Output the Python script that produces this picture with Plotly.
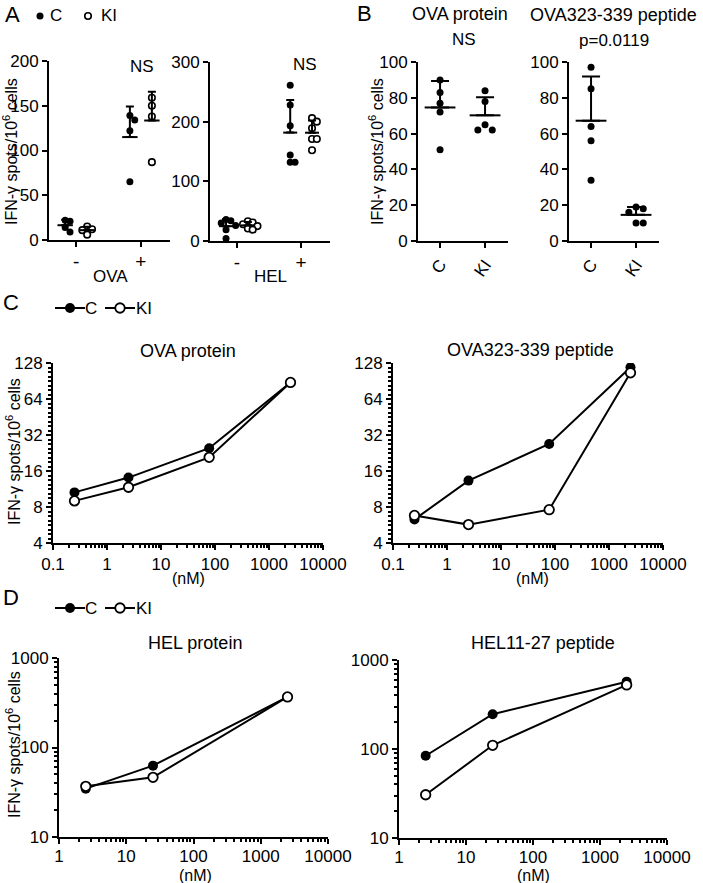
import numpy as np
import plotly.graph_objects as go

W, H = 703, 883
FONT = "Liberation Sans, Arial, sans-serif"

# ---------------- data ----------------
# Panel A (IFN-g spots / 1e6 cells), groups "-" and "+"
a_groups = ["-", "+"]
a_ova_neg_c = [22, 21, 14, 9]
a_ova_neg_ki = [15, 12, 11, 6]
a_ova_pos_c = [139, 134, 122, 65]
a_ova_pos_ki = [159, 150, 138, 87]
a_hel_neg_c = [36, 34, 30, 26, 19, 4]
a_hel_neg_ki = [33, 31, 28, 25, 21, 19]
a_hel_pos_c = [261, 228, 193, 144, 132, 132]
a_hel_pos_ki = [206, 200, 189, 171, 171, 152]

# Panel B
b_groups = ["C", "KI"]
b_ova_c = [90, 83, 77, 72, 51]
b_ova_ki = [84, 78, 65, 62, 62]
b_pep_c = [97, 85, 64, 56, 34]
b_pep_ki = [19, 18, 16, 10, 10]

# Panel C (dose in nM)
c_dose = [0.25, 2.5, 78, 2500]
c_ova_c = [10.6, 14.1, 24.8, 88]
c_ova_ki = [9.0, 11.7, 20.8, 88]
c_pep_c = [6.3, 13.3, 26.9, 118]
c_pep_ki = [6.8, 5.7, 7.6, 106]

# Panel D (dose in nM)
d_dose = [2.5, 25, 2500]
d_hel_c = [34.7, 62.7, 367]
d_hel_ki = [36.8, 46.4, 367]
d_pep_c = [84, 246, 571]
d_pep_ki = [30.6, 110, 525]

# ---------------- layout helpers ----------------
def xd(a, b):
    return [a / W, b / W]

def yd(top, bottom):
    return [1 - bottom / H, 1 - top / H]

boxes = {
    1: ((49, 170), (61, 240)),
    2: ((210, 330), (62, 241)),
    3: ((418, 508), (62, 241)),
    4: ((569, 659), (62, 241)),
    5: ((53, 323), (363, 543)),
    6: ((393, 663), (363, 543)),
    7: ((59, 328), (658, 837)),
    8: ((399, 667), (660, 838)),
}

TICKFONT = dict(size=17, color="black", family=FONT)
base_axis = dict(showline=True, linecolor="black", linewidth=2, ticks="outside",
                 ticklen=5, tickwidth=2, tickcolor="black", showgrid=False,
                 zeroline=False, tickfont=TICKFONT)

fig = go.Figure()

FILLED = dict(symbol="circle", color="black", size=7, line=dict(width=0))
OPEN = dict(symbol="circle", color="white", size=6.5, line=dict(color="black", width=1.6))


def swarm(vals, center, thr, step):
    placed, xs = [], []
    for v in vals:
        x = center
        for k in [0, 1, -1, 2, -2, 3, -3]:
            x = center + k * step
            if all(abs(v - pv) >= thr or abs(x - px) >= step * 0.99 for pv, px in placed):
                break
        placed.append((v, x))
        xs.append(x)
    return xs


def add_group(vals, center, ax, marker, thr, step, meanlen, capw, legend=None):
    xs = swarm(vals, center, thr, step)
    xa = "x" if ax == 1 else f"x{ax}"
    ya = "y" if ax == 1 else f"y{ax}"
    fig.add_trace(go.Scatter(x=xs, y=vals, mode="markers", marker=marker,
                             xaxis=xa, yaxis=ya, name=" ",
                             showlegend=legend is not None,
                             legend=legend or "legend", hoverinfo="skip"))
    m = float(np.mean(vals))
    sd = float(np.std(vals, ddof=1))
    fig.add_trace(go.Scatter(x=[center], y=[m], mode="markers",
                             marker=dict(symbol="line-ew", size=meanlen,
                                         line=dict(width=2, color="black")),
                             error_y=dict(type="data", symmetric=False, array=[sd],
                                          arrayminus=[0], width=capw, thickness=2,
                                          color="black"),
                             xaxis=xa, yaxis=ya, showlegend=False, hoverinfo="skip"))


def thr_for(ax, span, px=6.0):
    (t, b) = boxes[ax][1]
    return px * span / (b - t)


# Panel A
offs = 0.17
stepA = 0.075
add_group(a_ova_neg_c, 0 - offs, 1, FILLED, thr_for(1, 200), stepA, 11, 4, legend="legend")
add_group(a_ova_neg_ki, 0 + offs, 1, OPEN, thr_for(1, 200), stepA, 11, 4, legend="legend4")
add_group(a_ova_pos_c, 1 - offs, 1, FILLED, thr_for(1, 200), stepA, 11, 4)
add_group(a_ova_pos_ki, 1 + offs, 1, OPEN, thr_for(1, 200), stepA, 11, 4)
add_group(a_hel_neg_c, 0 - offs, 2, FILLED, thr_for(2, 300), stepA, 10, 4)
add_group(a_hel_neg_ki, 0 + offs, 2, OPEN, thr_for(2, 300), stepA, 10, 4)
add_group(a_hel_pos_c, 1 - offs, 2, FILLED, thr_for(2, 300), stepA, 10, 4)
add_group(a_hel_pos_ki, 1 + offs, 2, OPEN, thr_for(2, 300), stepA, 10, 4)

# Panel B
stepB = 0.16
add_group(b_ova_c, 0, 3, FILLED, thr_for(3, 100), stepB, 22, 9)
add_group(b_ova_ki, 1, 3, FILLED, thr_for(3, 100), stepB, 22, 9)
add_group(b_pep_c, 0, 4, FILLED, thr_for(4, 100), stepB, 22, 9)
add_group(b_pep_ki, 1, 4, FILLED, thr_for(4, 100), stepB, 22, 9)

# Panels C and D (lines)
LF = dict(symbol="circle", color="black", size=10, line=dict(width=0))
LO = dict(symbol="circle", color="white", size=9.5, line=dict(color="black", width=1.8))


def add_line(x, y, ax, marker, legend=None):
    fig.add_trace(go.Scatter(x=x, y=y, mode="lines+markers", marker=marker,
                             line=dict(color="black", width=2),
                             xaxis=f"x{ax}", yaxis=f"y{ax}", name=" ",
                             showlegend=legend is not None, legend=legend or "legend",
                             hoverinfo="skip"))


add_line(c_dose, c_ova_c, 5, LF, "legend2")
add_line(c_dose, c_ova_ki, 5, LO, "legend5")
add_line(c_dose, c_pep_c, 6, LF)
add_line(c_dose, c_pep_ki, 6, LO)
add_line(d_dose, d_hel_c, 7, LF, "legend3")
add_line(d_dose, d_hel_ki, 7, LO, "legend6")
add_line(d_dose, d_pep_c, 8, LF)
add_line(d_dose, d_pep_ki, 8, LO)

# ---------------- axes ----------------
layout = {}
for ax, ((x0, x1), (t, b)) in boxes.items():
    sx = "" if ax == 1 else str(ax)
    layout[f"xaxis{sx}"] = dict(base_axis, domain=xd(x0, x1), anchor=f"y{sx}")
    layout[f"yaxis{sx}"] = dict(base_axis, domain=yd(t, b), anchor=f"x{sx}")

for ax in (1, 2):
    sx = "" if ax == 1 else str(ax)
    layout[f"xaxis{sx}"].update(range=[-0.42, 1.45], tickvals=[0, 1], ticktext=a_groups,
                                tickfont=dict(size=19, color="black", family=FONT),
                                ticklabelstandoff=-2)
layout["yaxis"].update(range=[0, 200], tickvals=[0, 50, 100, 150, 200])
layout["yaxis2"].update(range=[0, 300], tickvals=[0, 100, 200, 300])
for ax in (3, 4):
    layout[f"xaxis{ax}"].update(range=[-0.49, 1.51], tickvals=[0, 1], ticktext=b_groups,
                                tickangle=-55)
    layout[f"yaxis{ax}"].update(range=[0, 100], tickvals=[0, 20, 40, 60, 80, 100])


def log_minor(lo, hi):
    vals = []
    for e in range(lo, hi):
        for k in range(2, 10):
            vals.append(k * 10 ** e)
    return vals


MINOR = dict(ticks="outside", ticklen=3, tickwidth=1.5, tickcolor="black")
for ax in (5, 6):
    layout[f"xaxis{ax}"].update(type="log", range=[-1, 4],
                                tickvals=[0.1, 1, 10, 100, 1000, 10000],
                                ticktext=["0.1", "1", "10", "100", "1000", "10000"],
                                minor=dict(MINOR, tickvals=log_minor(-1, 4)))
    y2ticks = [4, 8, 16, 32, 64, 128]
    y2minor = [4 * 2 ** (k / 8) for k in range(41) if k % 8 != 0]
    layout[f"yaxis{ax}"].update(type="log", range=[np.log10(4), np.log10(128)],
                                tickvals=y2ticks, ticktext=[str(v) for v in y2ticks],
                                minor=dict(MINOR, tickvals=y2minor))
for ax in (7, 8):
    layout[f"xaxis{ax}"].update(type="log", range=[0, 4],
                                tickvals=[1, 10, 100, 1000, 10000],
                                ticktext=["1", "10", "100", "1000", "10000"],
                                minor=dict(MINOR, tickvals=log_minor(0, 4)),
                                ticklabelstandoff=-2)
    layout[f"yaxis{ax}"].update(type="log", range=[1, 3], tickvals=[10, 100, 1000],
                                ticktext=["10", "100", "1000"],
                                minor=dict(MINOR, tickvals=log_minor(1, 3)))

# ---------------- annotations ----------------
ann = []


def text(s, x, y, size=16, angle=0, xanchor="center"):
    ann.append(dict(text=s, x=x / W, y=1 - y / H, xref="paper", yref="paper",
                    showarrow=False, xanchor=xanchor, yanchor="middle", textangle=angle,
                    font=dict(size=size, color="black", family=FONT)))


YT = "IFN-\u03b3 spots/10<sup>6</sup> cells"
text("A", 12, 15, 22)
text("B", 364, 13, 22)
text("C", 11, 302, 22)
text("D", 11, 597, 22)
text(YT, 10, 152, 16, -90)
text(YT, 376, 152, 16, -90)
text(YT, 13, 452, 16, -90)
text(YT, 13, 745, 16, -90)
text("NS", 142, 66, 17)
text("NS", 305, 65, 17)
text("OVA", 110, 277, 17)
text("HEL", 270, 277, 17)
text("OVA protein", 460, 14, 18)
text("NS", 464, 39, 17)
text("OVA323-339 peptide", 613, 15, 18)
text("p=0.0119", 614, 40, 17)
text("OVA protein", 188, 351, 18)
text("OVA323-339 peptide", 530, 350, 18)
text("(nM)", 188, 578, 16)
text("(nM)", 532, 578, 16)
text("HEL protein", 195, 643, 18)
text("HEL11-27 peptide", 543, 643, 18)
text("(nM)", 195, 875, 16)
text("(nM)", 533, 875, 16)
# legend labels
text("C", 48, 16, 17, xanchor="left")
text("KI", 99, 16, 17, xanchor="left")
text("C", 83, 308, 17, xanchor="left")
text("KI", 134, 308, 17, xanchor="left")
text("C", 83, 608, 17, xanchor="left")
text("KI", 134, 608, 17, xanchor="left")


def leg(marker_x, y):
    return dict(orientation="h", xanchor="left", yanchor="middle",
                bgcolor="rgba(0,0,0,0)", itemclick=False, itemdoubleclick=False,
                font=dict(size=2, color="black", family=FONT),
                x=(marker_x - 20) / W, y=1 - y / H, entrywidth=1,
                entrywidthmode="pixels", borderwidth=0)


fig.update_layout(
    width=W, height=H, margin=dict(l=0, r=0, t=0, b=0, autoexpand=False),
    paper_bgcolor="white", plot_bgcolor="white",
    font=dict(family=FONT, color="black"),
    hovermode=False,
    annotations=ann,
    legend=leg(40, 16), legend4=leg(88, 16),
    legend2=leg(70, 308), legend5=leg(120, 308),
    legend3=leg(70, 608), legend6=leg(120, 608),
    **layout,
)

fig.write_html("out.html", config={"displayModeBar": False, "staticPlot": False},
               post_script="document.body.style.margin='0';document.body.style.overflow='hidden';")
